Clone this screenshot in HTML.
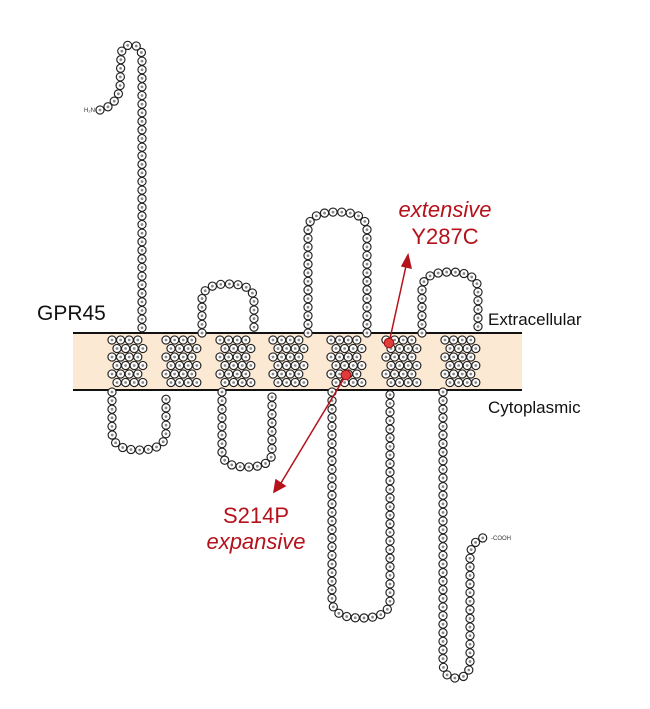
<!DOCTYPE html>
<html><head><meta charset="utf-8"><style>
html,body{margin:0;padding:0;background:#fff;}
svg{display:block;}
text{font-family:"Liberation Sans",Arial,sans-serif;}
</style></head><body>
<svg width="650" height="709" viewBox="0 0 650 709" xmlns="http://www.w3.org/2000/svg">
<defs>
<path id="chain" d="M100,110 L110,106 L117,98 L120,89 L121,55 Q122,45 131,45 Q141,45 142,56 L142,333
M112,392 L112,432 Q112,450 139,450 Q166,450 166,432 L166,392
M202,333 L202,300 Q202,284 228,284 Q254,284 254,300 L254,333
M222,392 L222,452 Q222,467 247,467 Q272,467 272,452 L272,392
M308,333 L308,230 Q308,212 337,212 Q367,212 367,230 L367,333
M332,392 L332,600 Q332,618 361,618 Q390,618 390,600 L390,392
M422,333 L422,290 Q422,272 450,272 Q478,272 478,290 L478,333
M443,392 L443,662 Q443,678 456,678 Q470,678 470,662 L470,555 Q472,540 486,537
M112,340h28M117,348.5h28M112,357h28M117,365.5h28M112,374h28M117,382.5h28
M166,340h28M171,348.5h28M166,357h28M171,365.5h28M166,374h28M171,382.5h28
M220,340h28M225,348.5h28M220,357h28M225,365.5h28M220,374h28M225,382.5h28
M273,340h28M278,348.5h28M273,357h28M278,365.5h28M273,374h28M278,382.5h28
M331,340h28M336,348.5h28M331,357h28M336,365.5h28M331,374h28M336,382.5h28
M386,340h28M391,348.5h28M386,357h28M391,365.5h28M386,374h28M391,382.5h28
M445,340h28M450,348.5h28M445,357h28M450,365.5h28M445,374h28M450,382.5h28"/>
</defs>
<rect x="73" y="333" width="449" height="57" fill="#fbe9d4"/>
<line x1="73" y1="333" x2="522" y2="333" stroke="#111" stroke-width="2"/>
<line x1="73" y1="390" x2="522" y2="390" stroke="#111" stroke-width="2"/>
<use href="#chain" fill="none" stroke="#222" stroke-width="9.3" stroke-linecap="round" stroke-dasharray="0 8.6"/>
<use href="#chain" fill="none" stroke="#fff" stroke-width="7" stroke-linecap="round" stroke-dasharray="0 8.6"/>
<use href="#chain" fill="none" stroke="#888" stroke-width="2.8" stroke-linecap="round" stroke-dasharray="0 8.6"/>
<text x="84" y="112" font-size="6" fill="#333">H₂N-</text>
<text x="491" y="540" font-size="6" fill="#333">-COOH</text>
<g stroke="#b5121b" stroke-width="1.5" fill="#b5121b">
<line x1="346" y1="375" x2="281" y2="483"/>
<polygon points="274,492 276,480 285,486" />
<line x1="389" y1="343" x2="406" y2="266"/>
<polygon points="408,255 402,266 411,268"/>
</g>
<circle cx="346" cy="375" r="4.8" fill="#e03c3c" stroke="#a01010" stroke-width="1"/>
<circle cx="389" cy="343" r="4.8" fill="#e03c3c" stroke="#a01010" stroke-width="1"/>
<text x="37" y="320" font-size="21" fill="#111">GPR45</text>
<text x="488" y="325" font-size="17" fill="#111">Extracellular</text>
<text x="488" y="413" font-size="17" fill="#111">Cytoplasmic</text>
<g fill="#b5121b" font-size="22" text-anchor="middle">
<text x="445" y="217" font-style="italic">extensive</text>
<text x="445" y="244">Y287C</text>
<text x="256" y="523">S214P</text>
<text x="256" y="549" font-style="italic">expansive</text>
</g>
</svg>
</body></html>
